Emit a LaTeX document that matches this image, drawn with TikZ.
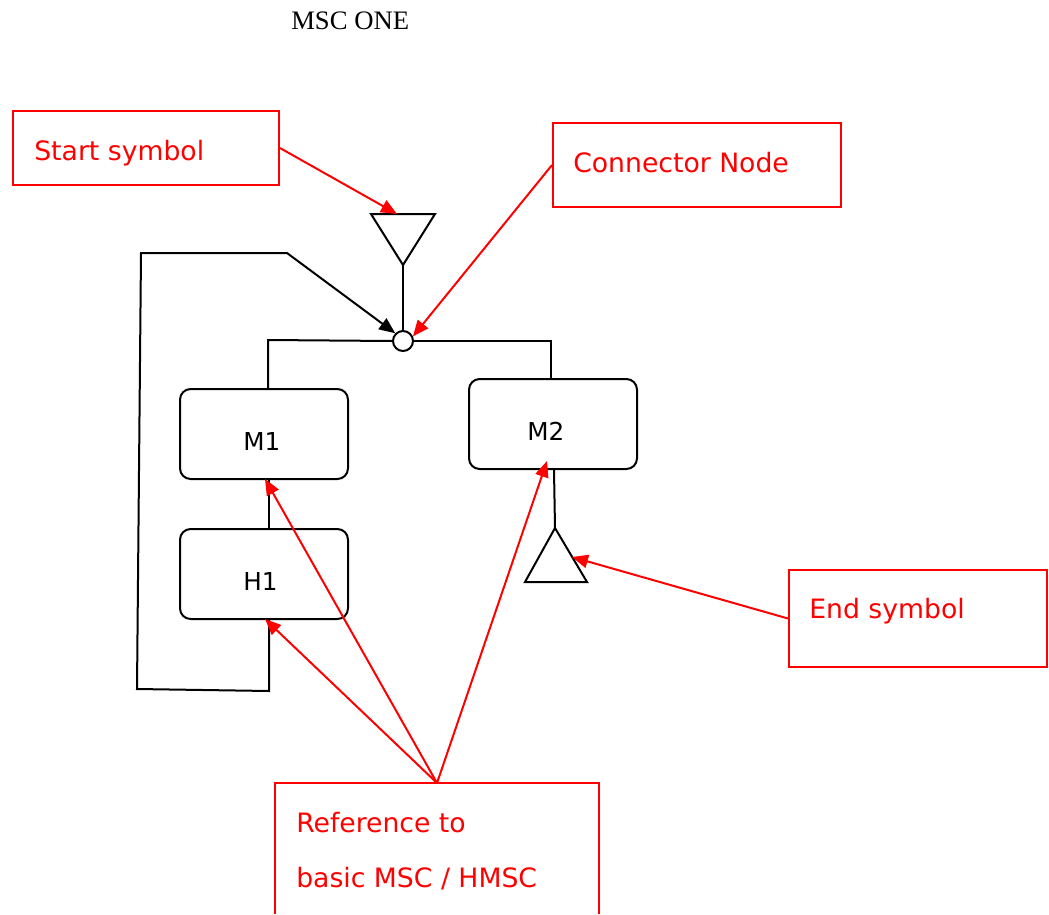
\documentclass[tikz,border=0pt]{standalone}
\usepackage{fontspec}
\setmainfont{DejaVu Sans}
\newfontfamily\ttlfont{Liberation Serif}
\usetikzlibrary{arrows.meta,calc}
\definecolor{pred}{RGB}{255,0,0}
\begin{document}
\begin{tikzpicture}[x=0.75pt,y=-0.75pt,
  blk/.style={line width=1.5pt,black},
  blkarrow/.style={blk,-{Triangle[length=12pt,width=10pt]}},
  redl/.style={line width=1.5pt,pred},
  redarrow/.style={redl,-{Triangle[length=12pt,width=10pt]}},
  redbox/.style={draw=pred,line width=1.5pt,rectangle,inner sep=0pt},
  msc/.style={draw,line width=1.5pt,rounded corners=8pt,minimum width=126pt,minimum height=67.5pt,inner sep=0pt},
  lbl/.style={text=pred,font=\fontsize{20}{24}\selectfont,anchor=base west,inner sep=0pt},
  mlbl/.style={font=\fontsize{18.5}{22}\selectfont,anchor=base west,inner sep=0pt}
]
\useasboundingbox (0,0) rectangle (1049,914);

% title
\node[font=\ttlfont\fontsize{20}{24}\selectfont,anchor=base west,inner sep=0pt] (title) at (291,29) {MSC ONE};

% MSC boxes
\node[msc] (m1) at (264,434) {};
\node[mlbl] (m1t) at (243,450) {M1};
\node[msc] (h1) at (264,574) {};
\node[mlbl] (h1t) at (243,590) {H1};
\node[msc] (m2) at (553,424) {};
\node[mlbl] (m2t) at (527,440) {M2};

% connector node
\node[draw,circle,line width=1.5pt,minimum size=15pt,inner sep=0pt] (cn) at (403,341) {};

% start symbol
\coordinate (stl) at (371,214);
\coordinate (str) at (435,214);
\coordinate (sttip) at (403,265);
\draw[blk,line join=miter] (stl) -- (str) -- (sttip) -- cycle;
\draw[blk] (sttip) -- (cn.north);

% end symbol
\coordinate (etop) at (555,528);
\coordinate (ebl) at (525,582);
\coordinate (ebr) at (587,582);
\draw[blk,line join=miter] (etop) -- (ebr) -- (ebl) -- cycle;
\draw[blk] ([xshift=0.75pt]m2.south) -- (etop);

% branches
\draw[blk] (cn.west) -- (268,340) -- ([xshift=3pt]m1.north);
\draw[blk] (cn.east) -- (551,341) -- ([xshift=-1.5pt]m2.north);
\draw[blk] ([xshift=3.75pt]m1.south) -- ([xshift=3.75pt]h1.south |- h1.north);

% loop back
\coordinate (lp1) at (269,691);
\coordinate (lp2) at (137,689);
\coordinate (lp3) at (141,253);
\coordinate (lp4) at (287,253);
\draw[blkarrow] ([xshift=3.75pt]h1.south) -- (lp1) -- (lp2) -- (lp3) -- (lp4) -- (cn.135);

% red annotation boxes
\node[redbox,minimum width=199.5pt,minimum height=55.5pt] (sbox) at (146,148) {};
\node[lbl] (stxt) at (34,160) {Start symbol};
\node[redbox,minimum width=216pt,minimum height=63pt] (cbox) at (697,165) {};
\node[lbl] (ctxt) at (573,172) {Connector Node};
\node[redbox,minimum width=193.5pt,minimum height=72.75pt] (ebox) at (918,618.5) {};
\node[lbl] (etxt) at (809,618) {End symbol};
\coordinate (rtop) at (437,783);
\draw[redl] (275,914) -- (275,783) -- (599,783) -- (599,914);
\node[lbl] (rtxt1) at (296,832) {Reference to};
\node[lbl] (rtxt2) at (296,887) {basic MSC / HMSC};

% red arrows
\draw[redarrow] (sbox.east) -- (397,214);
\draw[redarrow] (cbox.west) -- (cn.25);
\coordinate (eside) at (572,557);
\draw[redarrow] (ebox.west) -- (eside);
\draw[redarrow] (rtop) -- (265,479);
\draw[redarrow] (rtop) -- (265,619);
\draw[redarrow] (rtop) -- (547,461);
\end{tikzpicture}
\end{document}
